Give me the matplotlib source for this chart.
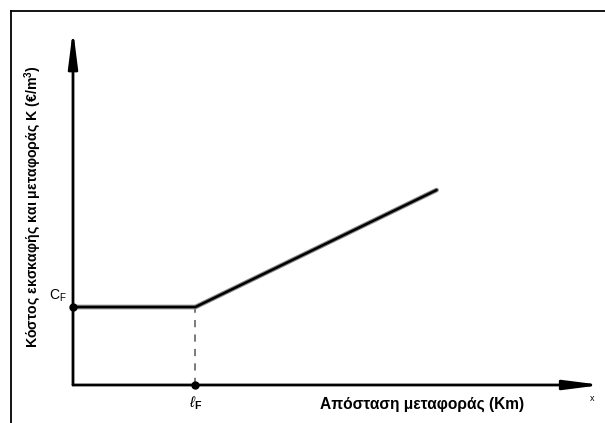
import matplotlib.pyplot as plt
import matplotlib.patheffects as pe
from matplotlib.lines import Line2D

plt.rcParams['font.family'] = ['Liberation Sans', 'DejaVu Sans']
plt.rcParams['mathtext.fontset'] = 'custom'
plt.rcParams['mathtext.rm'] = 'Liberation Sans'
plt.rcParams['mathtext.it'] = 'Liberation Sans:italic'
plt.rcParams['mathtext.bf'] = 'Liberation Sans:bold'

# Schematic data (units of l_F and C_F)
distance = [0, 1, 2.97]
cost = [1, 1, 2.5]
l_F = 1
C_F = 1
x_max = 4.24
y_max = 4.45

W, H = 605, 423
fig = plt.figure(figsize=(W / 100, H / 100), dpi=100)

# outer frame: only left and top edges fall inside the image
fig.add_artist(Line2D([10.5 / W, 10.5 / W], [0, 1 - 11 / H], color='black', lw=1.3))
fig.add_artist(Line2D([10.5 / W, 1], [1 - 11 / H, 1 - 11 / H], color='black', lw=1.3))

# axes area: origin at pixel (73, 383)
ax = fig.add_axes([73 / W, (H - 385) / H, 519 / W, 347 / H])
ax.set_xlim(0, x_max)
ax.set_ylim(0, y_max)
ax.axis('off')

arrow = dict(arrowstyle='-|>,head_length=2.2,head_width=0.28', color='black', lw=2,
             shrinkA=0, shrinkB=0)
ax.annotate('', xy=(x_max + 0.08, 0), xytext=(0, 0), arrowprops=arrow,
            annotation_clip=False)
ax.annotate('', xy=(0, y_max + 0.11), xytext=(0, 0), arrowprops=arrow,
            annotation_clip=False)

# cost curve
ax.plot(distance, cost, color='black', lw=1.8, solid_capstyle='round',
        path_effects=[pe.Stroke(linewidth=3.4, foreground='#8a8a8a'), pe.Normal()],
        clip_on=False, zorder=3)

# dashed guide
ax.plot([l_F, l_F], [0, C_F], color='#707070', lw=1.3, linestyle=(0, (4, 4)), zorder=2)

# points
ax.plot([0, l_F], [C_F, 0], 'o', color='black', markersize=5, clip_on=False, zorder=4)

# labels
ax.text(-0.05, C_F + 0.04, r'C$_\mathrm{F}$', fontsize=10, ha='right', va='bottom')
ax.text(l_F, -0.12, r'$\ell_\mathbf{F}$', fontsize=11, ha='center', va='top')
ax.text(x_max, -0.12, 'x', fontsize=6.5, ha='center', va='top')

fig.text(422 / W, 1 - 404 / H, 'Απόσταση μεταφοράς (Km)', fontsize=11.2,
         fontweight='bold', ha='center', va='center')
fig.text(33 / W, 1 - 207 / H, 'Κόστος εκσκαφής και μεταφοράς Κ (€/m$^\\mathbf{3}$)',
         fontsize=10.2, fontweight='bold', rotation=90, ha='center', va='center')

fig.savefig('out.png', dpi=100)
